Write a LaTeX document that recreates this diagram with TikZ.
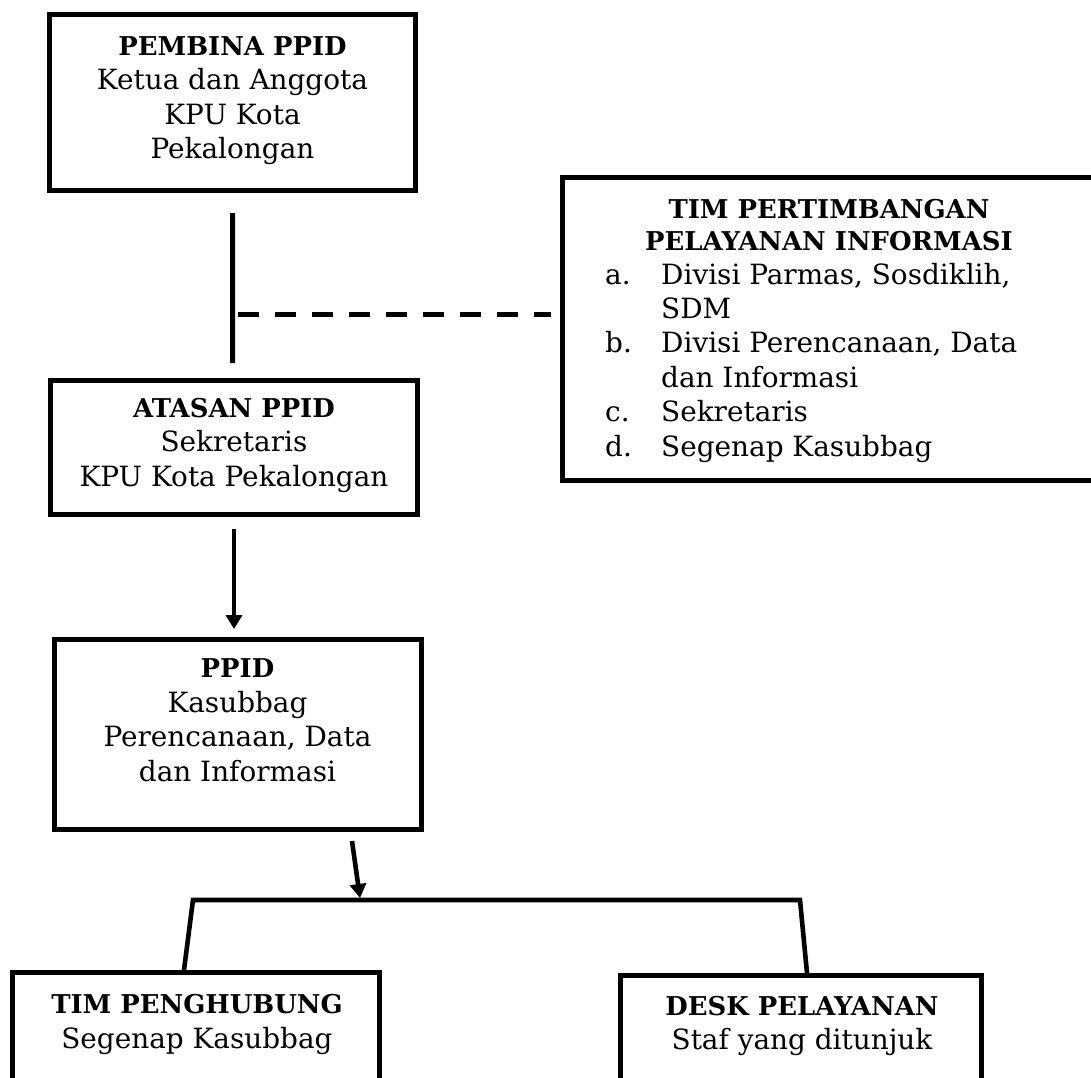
\documentclass[tikz,border=0pt]{standalone}
\usepackage{fontspec}
\setmainfont{DejaVu Serif}
\usetikzlibrary{arrows.meta,calc}
\newcommand\bt[1]{{\fontsize{26}{34.5}\selectfont\bfseries #1}}
\begin{document}
\begin{tikzpicture}[x=1bp,y=-1bp,
  box/.style={draw, line width=5bp, inner sep=0pt, rectangle},
  txt/.style={align=center, inner sep=0pt, font=\fontsize{28}{34.5}\selectfont},
  conn/.style={line width=4.6bp},
  arr/.style={conn, -{Triangle[width=16bp,length=14bp]}}]
\clip (0,0) rectangle (1091,1078);
% boxes
\node[box, minimum width=366bp, minimum height=176bp] (pembina) at (232.5,102.5) {};
\node[box, minimum width=367bp, minimum height=134bp] (atasan) at (234,447.5) {};
\node[box, minimum width=367bp, minimum height=190bp] (ppid) at (238,734.5) {};
\node[box, minimum width=557.5bp, minimum height=303bp] (tim) at (841.25,329) {};
\node[box, minimum width=367bp, minimum height=147.5bp] (peng) at (196,1046.25) {};
\node[box, minimum width=361bp, minimum height=144.5bp] (desk) at (801,1047.75) {};
% texts (anchor base = baseline of the last line)
\node[txt, anchor=base] (pembinaT) at (232.5,158.5) {\bt{PEMBINA PPID}\\Ketua dan Anggota\\KPU Kota\\Pekalongan};
\node[txt, anchor=base] (atasanT) at (234,486) {\bt{ATASAN PPID}\\Sekretaris\\KPU Kota Pekalongan};
\node[txt, anchor=base] (ppidT) at (237.5,781) {\bt{PPID}\\Kasubbag\\Perencanaan, Data\\dan Informasi};
\node[txt, anchor=base, font=\fontsize{26}{32}\selectfont\bfseries] (timT) at (829,250) {TIM PERTIMBANGAN\\PELAYANAN INFORMASI};
\node[txt, anchor=base west, align=left] (timL) at (605,456) {a.\\\mbox{}\\b.\\\mbox{}\\c.\\d.};
\node[txt, anchor=base west, align=left] (timI) at (661,456) {Divisi Parmas, Sosdiklih,\\SDM\\Divisi Perencanaan, Data\\dan Informasi\\Sekretaris\\Segenap Kasubbag};
\node[txt, anchor=base] (pengT) at (197,1048) {\bt{TIM PENGHUBUNG}\\Segenap Kasubbag};
\node[txt, anchor=base] (deskT) at (802,1049.5) {\bt{DESK PELAYANAN}\\Staf yang ditunjuk};
% connectors
\coordinate (vtop) at ($(pembina.south)+(0,20)$);
\coordinate (vbot) at ($(atasan.north)+(-1.5,-15)$);
\draw[line width=5bp] (vtop) -- (vbot);
\coordinate (dl) at (238,314);
\coordinate (dr) at ($(tim.west |- dl)+(-9.5,0)$);
\draw[line width=5bp, dash pattern=on 21bp off 16bp] (dl) -- (dr);
\coordinate (a1s) at ($(atasan.south)+(0,12)$);
\coordinate (a1e) at ($(ppid.north)+(-4,-8)$);
\draw[arr] (a1s) -- (a1e);
\coordinate (a2s) at ($(ppid.south)+(114,9)$);
\coordinate (bl) at (193,900);
\coordinate (br) at (800,900);
\coordinate (a2e) at (360,898);
\draw[arr] (a2s) -- (a2e);
\draw[conn] ($(peng.north)+(-12,0)$) -- (bl) -- (br) -- ($(desk.north)+(6,0)$);
\end{tikzpicture}
\end{document}
